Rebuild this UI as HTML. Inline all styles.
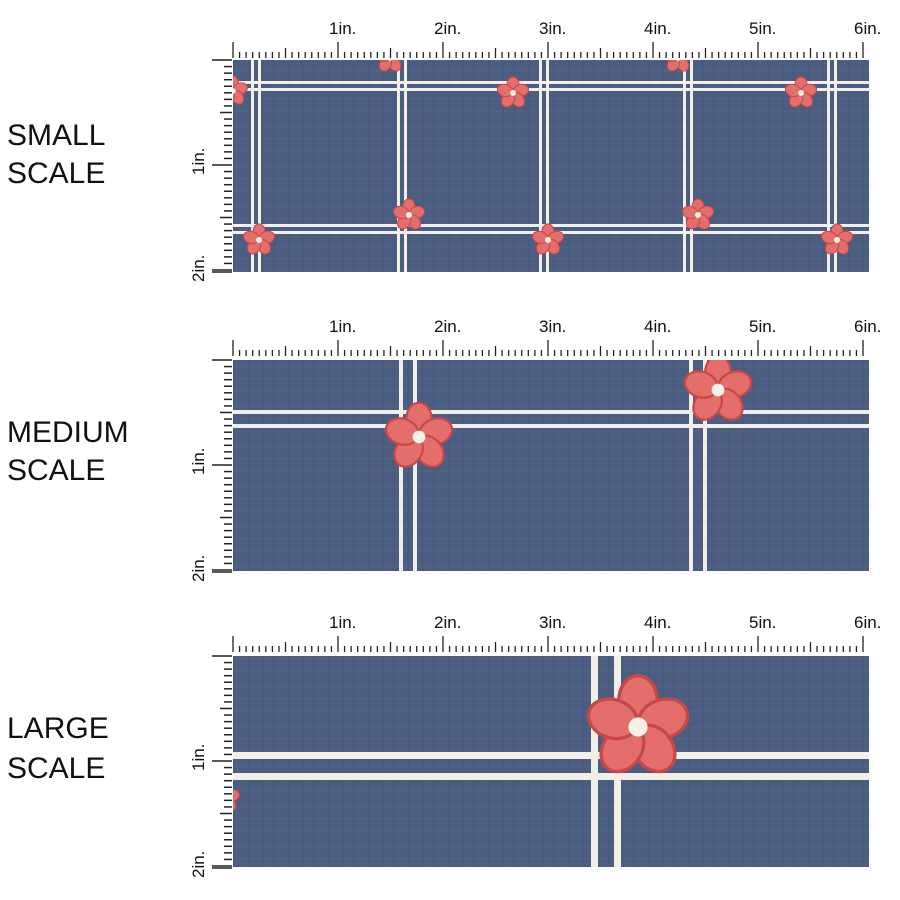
<!DOCTYPE html>
<html><head><style>
html,body{margin:0;padding:0;background:#fff;width:900px;height:900px;overflow:hidden}
svg{display:block}
text{font-family:"Liberation Sans",sans-serif;fill:#111}
</style></head><body>
<svg id="s" width="900" height="900" viewBox="0 0 900 900" xmlns="http://www.w3.org/2000/svg">
<defs>
<pattern id="tex" width="40" height="40" patternUnits="userSpaceOnUse">
<rect width="40" height="40" fill="#4b5e82"/>
<path d="M0 7h40M0 19h40M0 31h40" stroke="#56698c" stroke-width="1" opacity=".6"/>
<path d="M9 0v40M23 0v40M34 0v40" stroke="#415274" stroke-width="1" opacity=".6"/>
</pattern>
<g id="fl">
<g fill="#e46e6c" stroke="#c8484a" stroke-width="0.07">
<ellipse cx="0" cy="-0.55" rx="0.4" ry="0.52"/>
<ellipse cx="0" cy="-0.55" rx="0.4" ry="0.52" transform="rotate(72)"/>
<ellipse cx="0" cy="-0.55" rx="0.4" ry="0.52" transform="rotate(144)"/>
<ellipse cx="0" cy="-0.55" rx="0.4" ry="0.52" transform="rotate(216)"/>
<ellipse cx="0" cy="-0.55" rx="0.4" ry="0.52" transform="rotate(288)"/>
</g>
<circle r="0.2" fill="#f4f0ea"/>
</g>
<clipPath id="c1"><rect x="233" y="60" width="636" height="212"/></clipPath>
<clipPath id="c2"><rect x="233" y="360" width="636" height="211"/></clipPath>
<clipPath id="c3"><rect x="233" y="656" width="636" height="211"/></clipPath>
</defs>
<g font-size="30">
<text x="7" y="145">SMALL</text><text x="7" y="183">SCALE</text>
<text x="7" y="442">MEDIUM</text><text x="7" y="480">SCALE</text>
<text x="7" y="738">LARGE</text><text x="7" y="778">SCALE</text>
</g>
<g clip-path="url(#c1)">
<rect x="233" y="60" width="636" height="212" fill="url(#tex)"/>
<g fill="#f2efe8">
<rect x="251" y="60" width="3" height="212"/><rect x="258" y="60" width="3" height="212"/>
<rect x="397" y="60" width="3" height="212"/><rect x="404" y="60" width="3" height="212"/>
<rect x="539" y="60" width="3" height="212"/><rect x="546" y="60" width="3" height="212"/>
<rect x="683" y="60" width="3" height="212"/><rect x="690" y="60" width="3" height="212"/>
<rect x="827" y="60" width="3" height="212"/><rect x="834" y="60" width="3" height="212"/>
<rect x="233" y="81" width="636" height="3"/><rect x="233" y="88" width="636" height="3"/>
<rect x="233" y="224" width="636" height="3"/><rect x="233" y="231" width="636" height="3"/>
</g>
<use href="#fl" transform="translate(233,91) scale(14)"/>
<use href="#fl" transform="translate(390,58) scale(14)"/>
<use href="#fl" transform="translate(513,93) scale(15)"/>
<use href="#fl" transform="translate(678,58) scale(14)"/>
<use href="#fl" transform="translate(801,93) scale(15)"/>
<use href="#fl" transform="translate(259,240) scale(15)"/>
<use href="#fl" transform="translate(409,215) scale(15)"/>
<use href="#fl" transform="translate(548,240) scale(15)"/>
<use href="#fl" transform="translate(698,215) scale(15)"/>
<use href="#fl" transform="translate(837,240) scale(15)"/>
</g>
<g clip-path="url(#c2)">
<rect x="233" y="360" width="636" height="211" fill="url(#tex)"/>
<g fill="#f2efe8">
<rect x="399" y="360" width="4" height="211"/><rect x="413" y="360" width="4" height="211"/>
<rect x="689" y="360" width="4" height="211"/><rect x="703" y="360" width="4" height="211"/>
<rect x="233" y="410" width="636" height="4"/><rect x="233" y="424" width="636" height="4"/>
</g>
<use href="#fl" transform="translate(419,437) scale(32)"/>
<use href="#fl" transform="translate(718,390) scale(32)"/>
</g>
<g clip-path="url(#c3)">
<rect x="233" y="656" width="636" height="211" fill="url(#tex)"/>
<g fill="#f2efe8">
<rect x="591" y="656" width="7" height="211"/><rect x="614" y="656" width="7" height="211"/>
<rect x="233" y="752" width="636" height="7"/><rect x="233" y="773" width="636" height="7"/>
</g>
<use href="#fl" transform="translate(638,727) scale(48)"/>
<use href="#fl" transform="translate(225,798) scale(14)"/>
</g>
<g id="rulers" stroke="#222" fill="none"></g>
<g id="labels" font-size="17"></g>
</svg>
<script>
var r=document.getElementById('rulers'),L=document.getElementById('labels'),ns='http://www.w3.org/2000/svg';
function ln(x1,y1,x2,y2,w){var l=document.createElementNS(ns,'line');l.setAttribute('x1',x1);l.setAttribute('y1',y1);l.setAttribute('x2',x2);l.setAttribute('y2',y2);l.setAttribute('stroke-width',w||1);r.appendChild(l);}
function tx(x,y,s,rot){var t=document.createElementNS(ns,'text');t.setAttribute('x',x);t.setAttribute('y',y);t.textContent=s;if(rot)t.setAttribute('transform','rotate(-90 '+x+' '+y+')');L.appendChild(t);}
var ppi=105;
[[58,60],[356,360],[652,656]].forEach(function(p,k){
 var by=p[0],top=p[1];
 for(var i=0;i<=97;i++){var x=233+i*ppi/16;if(x>869)break;var h=i%16==0?16:(i%8==0?10:6);ln(x,by,x,by-h,1.3);}
 for(var j=1;j<=6;j++)tx(233+j*ppi-9,by-24,j+'in.');
 var ph=212;
 for(var i=0;i<=34;i++){var y=top+i*ppi/16;if(y>top+ph)break;var w=i%16==0?20:(i%8==0?12:8);ln(232,y,232-w,y,1.5);}
 ln(232,top+ph,212,top+ph,1.5);
 tx(204,top+ppi+10,'1in.',1);tx(204,top+ph+10,'2in.',1);
});
</script>
</body></html>
